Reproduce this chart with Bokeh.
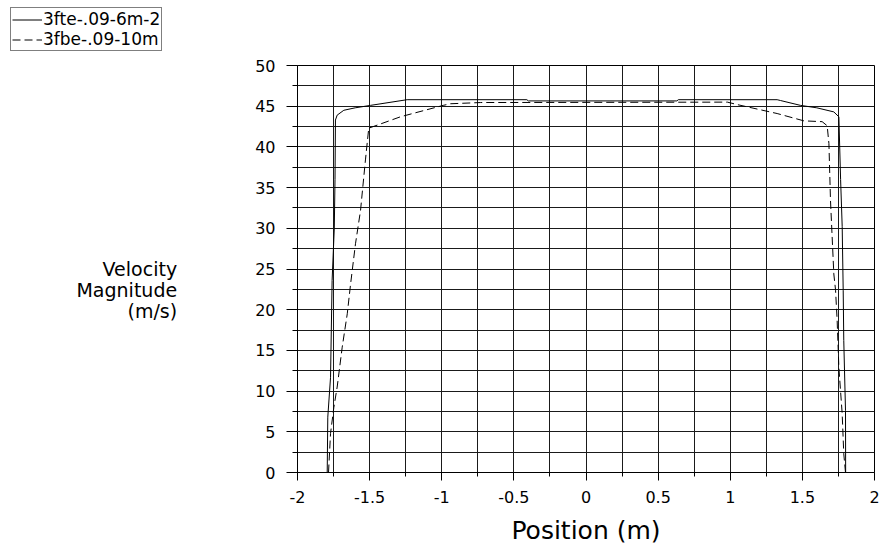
from bokeh.plotting import figure
from bokeh.models import (Range1d, FixedTicker, Legend, LegendItem)
from bokeh.layouts import column
from bokeh.embed import file_html
from bokeh.resources import INLINE

# ---- data ----
solid_name = "3fte-.09-6m-2"
solid_x = [-1.794, -1.790, -1.771, -1.760, -1.745, -1.740, -1.737, -1.725, -1.679, -1.600,
           -1.494, -1.240, -0.410, -0.400, 0.630, 0.640, 1.325, 1.348, 1.487, 1.600,
           1.718, 1.753, 1.765, 1.776, 1.783, 1.787, 1.799, 1.800]
solid_y = [0.0, 6.8, 11.7, 23.6, 30.0, 36.0, 43.3, 43.9, 44.5, 44.8,
           45.1, 45.8, 45.8, 45.65, 45.65, 45.8, 45.8, 45.7, 45.1, 44.8,
           44.3, 43.7, 36.0, 30.2, 22.4, 16.2, 7.6, 0.0]

dashed_name = "3fbe-.09-10m"
dashed_x = [-1.785, -1.771, -1.748, -1.725, -1.690, -1.655, -1.633, -1.598, -1.563, -1.529,
            -1.506, -1.286, -0.990, -0.940, -0.730, 0.980, 1.048, 1.325, 1.510, 1.637,
            1.672, 1.684, 1.695, 1.718, 1.730, 1.741, 1.753, 1.776, 1.787, 1.799]
dashed_y = [0.0, 4.8, 8.0, 10.5, 15.4, 19.5, 23.0, 28.1, 32.2, 38.4,
            42.3, 43.7, 45.1, 45.3, 45.45, 45.5, 45.2, 44.1, 43.2, 43.1,
            42.6, 40.4, 33.4, 24.4, 22.4, 18.7, 12.9, 7.2, 2.3, 0.0]

x_ticks = [-2, -1.5, -1, -0.5, 0, 0.5, 1, 1.5, 2]
x_tick_labels = ["-2", "-1.5", "-1", "-0.5", "0", "0.5", "1", "1.5", "2"]
x_minor = [-1.75, -1.25, -0.75, -0.25, 0.25, 0.75, 1.25, 1.75]
y_ticks = [0, 5, 10, 15, 20, 25, 30, 35, 40, 45, 50]
y_minor = [2.5, 7.5, 12.5, 17.5, 22.5, 27.5, 32.5, 37.5, 42.5, 47.5]
x_title = "Position (m)"
y_title_lines = ["Velocity", "Magnitude", "(m/s)"]

FONT = "DejaVu Sans"
GRID = "#1a1a1a"
DASH = "8 4"
LEG_H = 53

# ---- legend strip (top-left, above the plot); its lines sit outside its view ----
lf = figure(width=881, height=LEG_H, output_backend="svg", toolbar_location=None,
            x_axis_location=None, y_axis_location=None,
            x_range=Range1d(10, 11), y_range=Range1d(100, 101),
            min_border_left=10, min_border_right=0, min_border_top=7, min_border_bottom=0)
lf.grid.visible = False
lf.outline_line_color = None
lf.background_fill_color = "white"
lf.border_fill_color = "white"
l1 = lf.line(solid_x, solid_y, line_color="black", line_width=1)
l2 = lf.line(dashed_x, dashed_y, line_color="black", line_width=1, line_dash=DASH)
legend = Legend(items=[LegendItem(label=solid_name, renderers=[l1]),
                       LegendItem(label=dashed_name, renderers=[l2])],
                location="top_left")
legend.border_line_color = "black"
legend.border_line_width = 1
legend.background_fill_color = "white"
legend.background_fill_alpha = 1
legend.padding = 1
legend.margin = 0
legend.spacing = 0
legend.label_standoff = 1
legend.glyph_width = 30
legend.glyph_height = 15
legend.label_height = 15
legend.label_text_font = FONT
legend.label_text_font_size = "17px"
legend.label_text_color = "black"
legend.label_text_line_height = 0.85
lf.add_layout(legend, "center")

# ---- main plot ----
p = figure(width=881, height=550 - LEG_H, output_backend="svg", toolbar_location=None,
           x_range=Range1d(-2, 2), y_range=Range1d(0, 50),
           min_border_left=297, min_border_right=7, min_border_top=65 - LEG_H,
           min_border_bottom=78)
p.background_fill_color = "white"
p.border_fill_color = "white"
p.outline_line_color = "black"
p.outline_line_width = 1

# keep each figure's frame where its own borders put it
for fig in (lf, p):
    if "frame_align" in fig.properties():
        fig.frame_align = False

p.xaxis.ticker = FixedTicker(ticks=x_ticks, minor_ticks=x_minor)
p.yaxis.ticker = FixedTicker(ticks=y_ticks, minor_ticks=y_minor)
p.xaxis.major_label_overrides = {t: l for t, l in zip(x_ticks, x_tick_labels)}
p.yaxis.major_label_overrides = {t: str(t) for t in y_ticks}

for ax in (p.xaxis, p.yaxis):
    ax.axis_line_color = "black"
    ax.major_tick_line_color = "black"
    ax.minor_tick_line_color = "black"
    ax.major_tick_in = 0
    ax.minor_tick_in = 0
    ax.major_label_text_font = FONT
    ax.major_label_text_font_size = "16px"
    ax.major_label_text_color = "black"
    ax.axis_label_text_font = FONT
    ax.axis_label_text_font_style = "normal"
    ax.axis_label_text_color = "black"
p.xaxis.major_tick_out = 8
p.xaxis.minor_tick_out = 4
p.yaxis.major_tick_out = 11
p.yaxis.minor_tick_out = 5
p.xaxis.major_label_standoff = 10
p.yaxis.major_label_standoff = 11

p.xaxis.axis_label = x_title
p.xaxis.axis_label_text_font_size = "25px"
p.xaxis.axis_label_standoff = 10

p.yaxis.axis_label = "\n\n" + "\n".join(y_title_lines)
p.yaxis.axis_label_orientation = "horizontal"
p.yaxis.axis_label_text_align = "right"
p.yaxis.axis_label_text_font_size = "19px"
p.yaxis.axis_label_text_line_height = 0.95
p.yaxis.axis_label_standoff = 75

p.xgrid.grid_line_color = GRID
p.xgrid.minor_grid_line_color = GRID
p.ygrid.grid_line_color = GRID
p.ygrid.minor_grid_line_color = GRID

p.line(solid_x, solid_y, line_color="black", line_width=1)
p.line(dashed_x, dashed_y, line_color="black", line_width=1, line_dash=DASH)

layout = column(lf, p, spacing=0)
open("out.html", "w").write(file_html(layout, INLINE))
